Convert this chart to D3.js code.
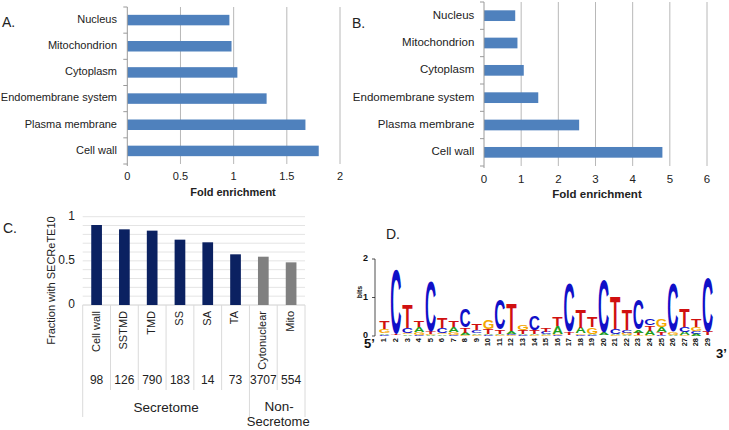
<!DOCTYPE html>
<html><head><meta charset="utf-8">
<script src="https://cdn.jsdelivr.net/npm/d3@7"></script>
<style>
html,body{margin:0;padding:0;background:#fff;}
svg{display:block;font-family:"Liberation Sans",Arial,sans-serif;}
</style></head>
<body><svg id="chart" width="729" height="430"></svg>
<script>
// ---------- DATA ----------
const locCategories = ["Nucleus","Mitochondrion","Cytoplasm","Endomembrane system","Plasma membrane","Cell wall"];
const foldA = [0.96, 0.98, 1.035, 1.31, 1.675, 1.80];
const foldB = [0.84, 0.90, 1.07, 1.46, 2.56, 4.80];
const ticksA = [0, 0.5, 1, 1.5, 2];
const ticksB = [0, 1, 2, 3, 4, 5, 6];

const catsC = ["Cell wall","SSTMD","TMD","SS","SA","TA","Cytonuclear","Mito"];
const fracC = [0.906, 0.857, 0.842, 0.74, 0.71, 0.574, 0.547, 0.483];
const countsC = [98, 126, 790, 183, 14, 73, 3707, 554];
const groupOfC = ["Secretome","Secretome","Secretome","Secretome","Secretome","Secretome","Non-Secretome","Non-Secretome"];
const ticksC = [0, 0.5, 1];
const gridC = [0, 0.1, 0.2, 0.3, 0.4, 0.5, 0.6, 0.7, 0.8, 0.9, 1.0];

const logoPositions = d3.range(1, 30);
const logoA = [.04,.01,.04,.13,.03,.04,.13,.05,.04,.04,.04,.08,.04,.04,.03,.21,.01,.15,.04,.06,.03,.03,.08,.12,.14,.02,.09,.06,.01];
const logoC = [.03,1.66,.12,.03,1.31,.14,.03,.46,.08,.02,.80,.03,.02,.37,.06,.02,1.28,.03,.02,1.37,.14,.07,.79,.16,.03,1.28,.13,.08,1.40];
const logoG = [.10,.01,.04,.08,.03,.04,.08,.03,.03,.25,.02,.02,.14,.02,.02,.04,.01,.04,.17,.01,.02,.05,.02,.02,.20,.08,.02,.10,.01];
const logoT = [.20,.04,.60,.16,.06,.28,.15,.14,.17,.13,.11,.70,.09,.09,.10,.23,.08,.46,.28,.01,.85,.52,.06,.14,.07,.01,.47,.20,.09];
const logoTicks = [0, 1, 2];

// ---------- SETUP ----------
const svg = d3.select("#chart");
const txt = "#222";
const barBlue = "#4f81bd";

function panelLabel(t, x, y) {
  svg.append("text").attr("x", x).attr("y", y).attr("font-size", 14).attr("fill", txt).text(t);
}

function hBarPanel(opt) {
  const g = svg.append("g");
  const x = d3.scaleLinear().domain(opt.domain).range([opt.x0, opt.x1]);
  const y = d3.scaleBand().domain(locCategories).range([opt.y0, opt.y1]);
  g.selectAll("line.grid").data(opt.ticks.filter(d => d > 0)).join("line")
    .attr("x1", d => x(d)).attr("x2", d => x(d))
    .attr("y1", opt.y0).attr("y2", opt.y1)
    .attr("stroke", "#b8b8b8").attr("stroke-width", 1);
  g.selectAll("rect").data(opt.values).join("rect")
    .attr("x", x(0))
    .attr("y", (d, i) => y(locCategories[i]) + y.bandwidth() / 2 - opt.barH / 2)
    .attr("width", d => x(d) - x(0))
    .attr("height", opt.barH)
    .attr("fill", barBlue);
  g.append("line").attr("x1", x(0)).attr("x2", x(0)).attr("y1", opt.y0).attr("y2", opt.y1 + 2)
    .attr("stroke", "#9a9a9a");
  const bounds = [opt.y0].concat(locCategories.map(c => y(c) + y.bandwidth()));
  g.selectAll("line.tk").data(bounds).join("line")
    .attr("x1", x(0) - 4).attr("x2", x(0)).attr("y1", d => d).attr("y2", d => d)
    .attr("stroke", "#9a9a9a");
  g.selectAll("text.cat").data(locCategories).join("text")
    .attr("x", opt.labelX).attr("y", d => y(d) + y.bandwidth() / 2)
    .attr("text-anchor", "end").attr("dominant-baseline", "middle")
    .attr("font-size", opt.fs).attr("fill", txt).text(d => d);
  g.selectAll("text.tick").data(opt.ticks).join("text")
    .attr("x", d => x(d)).attr("y", opt.tickY)
    .attr("text-anchor", "middle").attr("dominant-baseline", "middle")
    .attr("font-size", opt.fs).attr("fill", txt).text(d => d3.format("~g")(d));
  g.append("text").attr("x", opt.titleX).attr("y", opt.titleY)
    .attr("text-anchor", "middle").attr("dominant-baseline", "middle")
    .attr("font-size", opt.fs).attr("font-weight", "bold").attr("fill", txt).text("Fold enrichment");
}

// ---------- PANEL A ----------
panelLabel("A.", 2, 27);
hBarPanel({domain:[0,2], x0:127.3, x1:340, y0:7, y1:164, barH:10.5, values:foldA, ticks:ticksA,
  labelX:117, fs:11, tickY:177, titleX:233, titleY:193});

// ---------- PANEL B ----------
panelLabel("B.", 352, 28);
hBarPanel({domain:[0,6], x0:484, x1:707, y0:2, y1:166, barH:10.7, values:foldB, ticks:ticksB,
  labelX:474.3, fs:11.5, tickY:180, titleX:597, titleY:195});

// ---------- PANEL C ----------
panelLabel("C.", 3, 233);
{
  const g = svg.append("g");
  const y = d3.scaleLinear().domain([0, 1]).range([305, 216.7]);
  const x = d3.scaleBand().domain(catsC).range([82.7, 305]);
  g.selectAll("line.grid").data(gridC).join("line")
    .attr("x1", 82.7).attr("x2", 305).attr("y1", d => y(d)).attr("y2", d => y(d))
    .attr("stroke", d => d === 0 ? "#d0d0d0" : "#e4e4e4");
  g.selectAll("rect").data(fracC).join("rect")
    .attr("x", (d, i) => x(catsC[i]) + x.bandwidth() / 2 - 5.35)
    .attr("width", 10.7)
    .attr("y", d => y(d)).attr("height", d => y(0) - y(d))
    .attr("fill", (d, i) => groupOfC[i] === "Secretome" ? "#0b2161" : "#808080");
  g.selectAll("text.tick").data(ticksC).join("text")
    .attr("x", 75).attr("y", d => y(d)).attr("text-anchor", "end").attr("dominant-baseline", "middle")
    .attr("font-size", 12).attr("fill", txt).text(d => d3.format("~g")(d));
  g.append("text").attr("transform", "translate(51.7,280.5) rotate(-90)")
    .attr("text-anchor", "middle").attr("dominant-baseline", "middle")
    .attr("font-size", 11).attr("fill", txt).text("Fraction with SECReTE10");
  g.selectAll("text.cat").data(catsC).join("text")
    .attr("transform", d => `translate(${x(d) + x.bandwidth() / 2},311) rotate(-90)`)
    .attr("text-anchor", "end").attr("dominant-baseline", "middle")
    .attr("font-size", 11).attr("fill", txt).text(d => d);
  g.selectAll("text.cnt").data(countsC).join("text")
    .attr("x", (d, i) => x(catsC[i]) + x.bandwidth() / 2).attr("y", 381)
    .attr("text-anchor", "middle").attr("dominant-baseline", "middle")
    .attr("font-size", 12).attr("fill", txt).text(d => d);
  const bounds = d3.range(0, catsC.length + 1).map(i => 82.7 + i * x.step());
  g.selectAll("line.div").data(bounds).join("line")
    .attr("x1", d => d).attr("x2", d => d).attr("y1", 305)
    .attr("y2", (d, i) => (i === 0 || i === catsC.length || groupOfC[i] !== groupOfC[i - 1]) ? 417 : 390)
    .attr("stroke", "#dadada");
  const groups = Array.from(new Set(groupOfC));
  groups.forEach(gname => {
    const idx = groupOfC.map((v, i) => v === gname ? i : -1).filter(i => i >= 0);
    const cx = (x(catsC[idx[0]]) + x(catsC[idx[idx.length - 1]]) + x.bandwidth()) / 2;
    if (gname === "Non-Secretome") {
      g.append("text").attr("x", cx + 2).attr("y", 407).attr("text-anchor", "middle").attr("dominant-baseline", "middle")
        .attr("font-size", 13.5).attr("fill", txt).text("Non-");
      g.append("text").attr("x", cx + 1).attr("y", 422.5).attr("text-anchor", "middle").attr("dominant-baseline", "middle")
        .attr("font-size", 13).attr("fill", txt).text("Secretome");
    } else {
      g.append("text").attr("x", cx).attr("y", 408).attr("text-anchor", "middle").attr("dominant-baseline", "middle")
        .attr("font-size", 13.5).attr("fill", txt).text(gname);
    }
  });
}

// ---------- PANEL D ----------
panelLabel("D.", 386, 239);
{
  const g = svg.append("g");
  const y = d3.scaleLinear().domain([0, 2]).range([336, 259]);
  const x = d3.scalePoint().domain(logoPositions).range([384.5, 707.7]);
  const colors = {A: "#1f9e1f", C: "#1010c8", G: "#f5a800", T: "#d01010"};
  const canvas = document.createElement("canvas");
  const ctx = canvas.getContext("2d");
  const fontFam = "Liberation Sans";
  ctx.font = `bold 100px "${fontFam}"`;
  const metrics = {};
  ["A","C","G","T"].forEach(L => {
    const m = ctx.measureText(L);
    metrics[L] = {l: m.actualBoundingBoxLeft, r: m.actualBoundingBoxRight, a: m.actualBoundingBoxAscent, d: m.actualBoundingBoxDescent};
  });
  const W = 10.2;
  logoPositions.forEach((p, i) => {
    const stack = [["A", logoA[i]], ["C", logoC[i]], ["G", logoG[i]], ["T", logoT[i]]].sort((a, b) => a[1] - b[1]);
    let base = 0;
    stack.forEach(([L, h]) => {
      const yBot = y(base), yTop = y(base + h);
      const hpx = yBot - yTop;
      base += h;
      if (hpx <= 0.05) return;
      const m = metrics[L];
      const sx = W / (m.l + m.r), sy = hpx / (m.a + m.d);
      const x0 = x(p) - W / 2;
      g.append("text")
        .attr("transform", `translate(${x0 + m.l * sx},${yBot - m.d * sy}) scale(${sx},${sy})`)
        .attr("font-size", 100).attr("font-weight", "bold").attr("font-family", fontFam)
        .attr("fill", colors[L]).text(L);
    });
    g.append("text").attr("transform", `translate(${x(p)},338) rotate(-90)`)
      .attr("text-anchor", "end").attr("dominant-baseline", "middle")
      .attr("font-size", 7.5).attr("font-weight", "bold").attr("fill", "#111").text(p);
  });
  g.append("line").attr("x1", 375).attr("x2", 375).attr("y1", y(2)).attr("y2", y(0)).attr("stroke", "#222").attr("stroke-width", 0.8);
  g.selectAll("line.tk").data(logoTicks).join("line")
    .attr("x1", 372).attr("x2", 375).attr("y1", d => y(d)).attr("y2", d => y(d)).attr("stroke", "#222").attr("stroke-width", 0.8);
  g.selectAll("text.tk").data(logoTicks).join("text")
    .attr("x", 368).attr("y", d => y(d)).attr("text-anchor", "end").attr("dominant-baseline", "middle")
    .attr("font-size", 9).attr("font-weight", "bold").attr("fill", "#111").text(d => d);
  g.append("text").attr("transform", "translate(360,292) rotate(-90)")
    .attr("text-anchor", "middle").attr("dominant-baseline", "middle")
    .attr("font-size", 7).attr("font-weight", "bold").attr("fill", "#111").text("bits");
  g.append("text").attr("x", 364).attr("y", 348).attr("font-size", 13).attr("font-weight", "bold").attr("fill", "#111").text("5\u2019");
  g.append("text").attr("x", 716).attr("y", 358).attr("font-size", 13).attr("font-weight", "bold").attr("fill", "#111").text("3\u2019");
}
</script></body></html>
